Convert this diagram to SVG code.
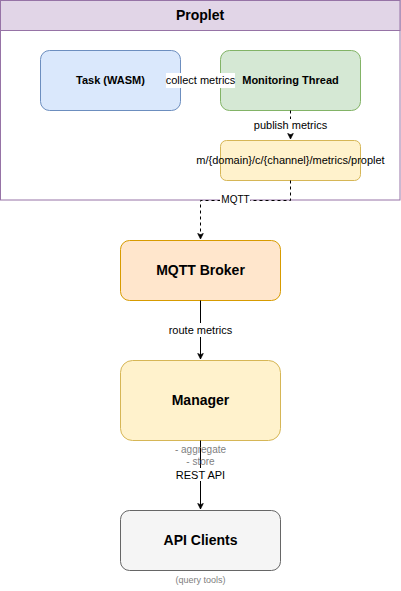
<svg xmlns="http://www.w3.org/2000/svg" width="401" height="591" viewBox="0 0 401 591">
<defs>
<marker id="arr" viewBox="0 0 10 10" refX="9" refY="5" markerWidth="7" markerHeight="7" markerUnits="userSpaceOnUse" orient="auto">
<path d="M1,1 L9,5 L1,9 L3,5 Z" fill="#000" stroke="#000"/>
</marker>
</defs>
<style>
text{font-family:"Liberation Sans",Arial,sans-serif;text-anchor:middle;dominant-baseline:central}
.b{font-weight:bold}
.lbl{font-size:11px;fill:#000}
.edge{fill:none;stroke:#000;stroke-width:1}
.dash{stroke-dasharray:3 3}
.note{fill:#808080;font-size:10px}
</style>
<rect width="401" height="591" fill="#fff"/>
<g id="proplet">
<rect x="0.5" y="0.5" width="399.5" height="199.5" fill="#fff" stroke="#9673a6"/>
<rect x="0.5" y="0.5" width="399.5" height="30" fill="#e1d5e7" stroke="#9673a6"/>
<text x="200" y="14.5" class="b" font-size="14">Proplet</text>
</g>
<g id="task">
<rect x="40.5" y="50.5" width="140" height="60" rx="9" fill="#dae8fc" stroke="#6c8ebf"/>
<text x="110.5" y="79.5" class="b" font-size="11">Task (WASM)</text>
</g>
<g id="monitor">
<rect x="220.5" y="50.5" width="140" height="60" rx="9" fill="#d5e8d4" stroke="#82b366"/>
<text x="290.5" y="79.5" class="b" font-size="11">Monitoring Thread</text>
</g>
<g id="topic">
<rect x="220.5" y="140.5" width="140" height="40" rx="6" fill="#fff2cc" stroke="#d6b656"/>
<text x="290.5" y="159.5" font-size="11" fill="#000">m/{domain}/c/{channel}/metrics/proplet</text>
</g>
<g id="broker">
<rect x="120.5" y="240.5" width="160" height="60" rx="9" fill="#ffe6cc" stroke="#d79b00"/>
<text x="200.5" y="269.5" class="b" font-size="14">MQTT Broker</text>
</g>
<g id="manager">
<rect x="120.5" y="360.5" width="160" height="80" rx="12" fill="#fff2cc" stroke="#d6b656"/>
<text x="200.5" y="399.5" class="b" font-size="14">Manager</text>
</g>
<g id="clients">
<rect x="120.5" y="510.5" width="160" height="60" rx="9" fill="#f5f5f5" stroke="#666666"/>
<text x="200.5" y="539.5" class="b" font-size="14">API Clients</text>
</g>
<g id="connectors">
<path class="edge" d="M180.5,80.5 L219,80.5" marker-end="url(#arr)"/>
<rect x="166" y="73" width="69" height="15" fill="#fff"/>
<text x="200.5" y="79.5" class="lbl">collect metrics</text>
<path class="edge dash" d="M290.5,110.5 L290.5,139" marker-end="url(#arr)"/>
<rect x="255" y="119" width="71" height="13" fill="#fff"/>
<text x="290.5" y="124.5" class="lbl">publish metrics</text>
<path class="edge dash" d="M290.5,180.5 L290.5,200.5 L200.5,200.5 L200.5,239" marker-end="url(#arr)"/>
<rect x="220" y="194" width="30" height="12" fill="#fff"/>
<text x="235.5" y="199.5" font-size="10" fill="#000">MQTT</text>
<path class="edge" d="M200.5,300.5 L200.5,359" marker-end="url(#arr)"/>
<rect x="167" y="323" width="67" height="14" fill="#fff"/>
<text x="200.5" y="329.5" class="lbl">route metrics</text>
<path class="edge" d="M200.5,440.5 L200.5,509" marker-end="url(#arr)"/>
<text x="200.5" y="449.5" class="note">- aggregate</text>
<text x="200.5" y="461.5" class="note">- store</text>
<rect x="175" y="468" width="51" height="13" fill="#fff"/>
<text x="200.5" y="474.5" class="lbl">REST API</text>
<text x="200.5" y="579.5" fill="#808080" font-size="9">(query tools)</text>
</g>
</svg>
